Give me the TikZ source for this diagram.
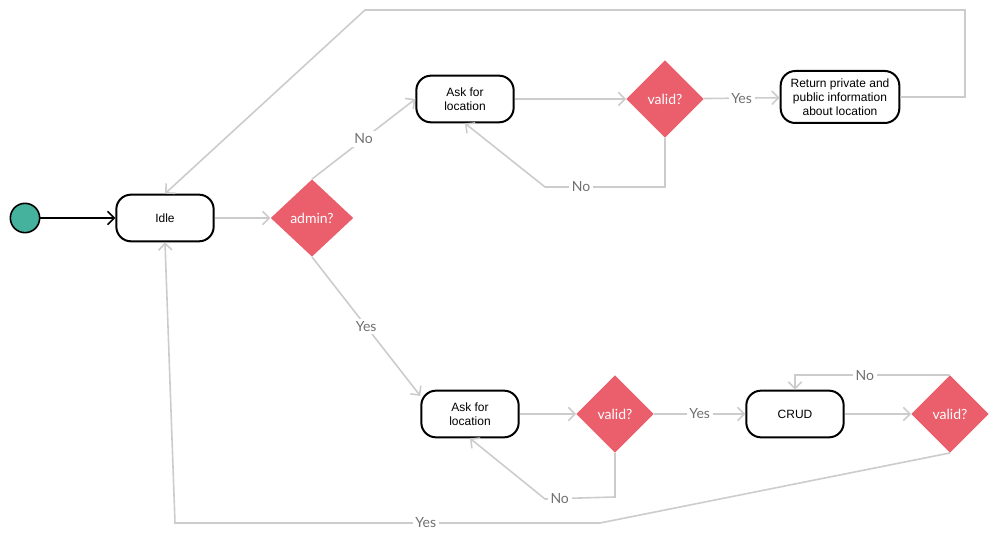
\documentclass[tikz,border=0pt]{standalone}
\usepackage{fontspec}
\setmainfont{Liberation Sans}
\newfontfamily\lato{Lato}
\usetikzlibrary{shapes.geometric,arrows.meta}
\definecolor{teal1}{HTML}{45B29D}
\definecolor{red1}{HTML}{EB5E6C}
\definecolor{line1}{HTML}{CCCCCC}
\definecolor{txt1}{HTML}{707070}

\begin{document}
\begin{tikzpicture}[x=0.75pt,y=-0.75pt,
	state/.style={draw,black,line width=1.5pt,rounded corners=11pt,minimum width=73pt,minimum height=35pt,align=center,font=\fontsize{9}{10.5}\selectfont,inner sep=1pt},
	choice/.style={diamond,fill=red1,text=white,inner sep=0pt,minimum width=58pt,minimum height=58pt,font=\lato\fontsize{10.5}{12}\selectfont},
	flow/.style={line1,line width=1.2pt,-{Straight Barb[length=5pt,width=10pt]}},
	lbl/.style={fill=white,text=txt1,font=\lato\fontsize{10.5}{12}\selectfont,inner sep=2pt}]
	\useasboundingbox (0,0) rectangle (1000,541);
	\node[circle,draw,black,fill=teal1,line width=1.2pt,minimum size=22pt,inner sep=0pt] (start) at (25,218) {};
	\node[state] (idle) at (165,218) {Idle};
	\node[choice,minimum width=62pt] (admin) at (312,218) {admin?};
	\node[state] (ask1) at (465,99) {Ask for\\location};
	\node[choice] (valid1) at (665,99) {valid?};
	\node[state,minimum width=89pt,minimum height=39pt] (ret) at (840,97) {Return private and\\public information\\about location};
	\node[state] (ask2) at (470,414) {Ask for\\location};
	\node[choice] (valid2) at (615,414) {valid?};
	\node[state] (crud) at (795,414) {CRUD};
	\node[choice] (valid3) at (950,414) {valid?};
	% connectors
	\draw[black,line width=1.2pt,-{Straight Barb[length=5pt,width=10pt]}] (start) -- (idle);
	\draw[flow] (idle) -- (admin);
	\draw[flow] (admin.north) -- node[lbl]{No} (ask1.west);
	\draw[flow] (admin.south) -- node[lbl]{Yes} (ask2.160);
	\draw[flow] (ask1) -- (valid1);
	\draw[flow] (valid1) -- node[lbl]{Yes} (ret);
	\draw[flow] (valid1.south) -- (665,187) -- node[lbl,pos=0.7]{No} (545,187) -- (ask1.south);
	\draw[flow] (ret.east) -- (965,97) -- (965,10) -- (365,10) -- (idle.north);
	\draw[flow] (ask2) -- (valid2);
	\draw[flow] (valid2) -- node[lbl]{Yes} (crud);
	\draw[flow] (valid2.south) -- (615,497) -- node[lbl,pos=0.79]{No} (545,499) -- (ask2.south);
	\draw[flow] (crud) -- (valid3);
	\draw[flow] (valid3.north) -- node[lbl,pos=0.55]{No} (crud.north |- valid3.north) -- (crud.north);
	\draw[flow] (valid3.south) -- (600,523) -- node[lbl,pos=0.41]{Yes} (175,523) -- (idle.south);
\end{tikzpicture}
\end{document}
